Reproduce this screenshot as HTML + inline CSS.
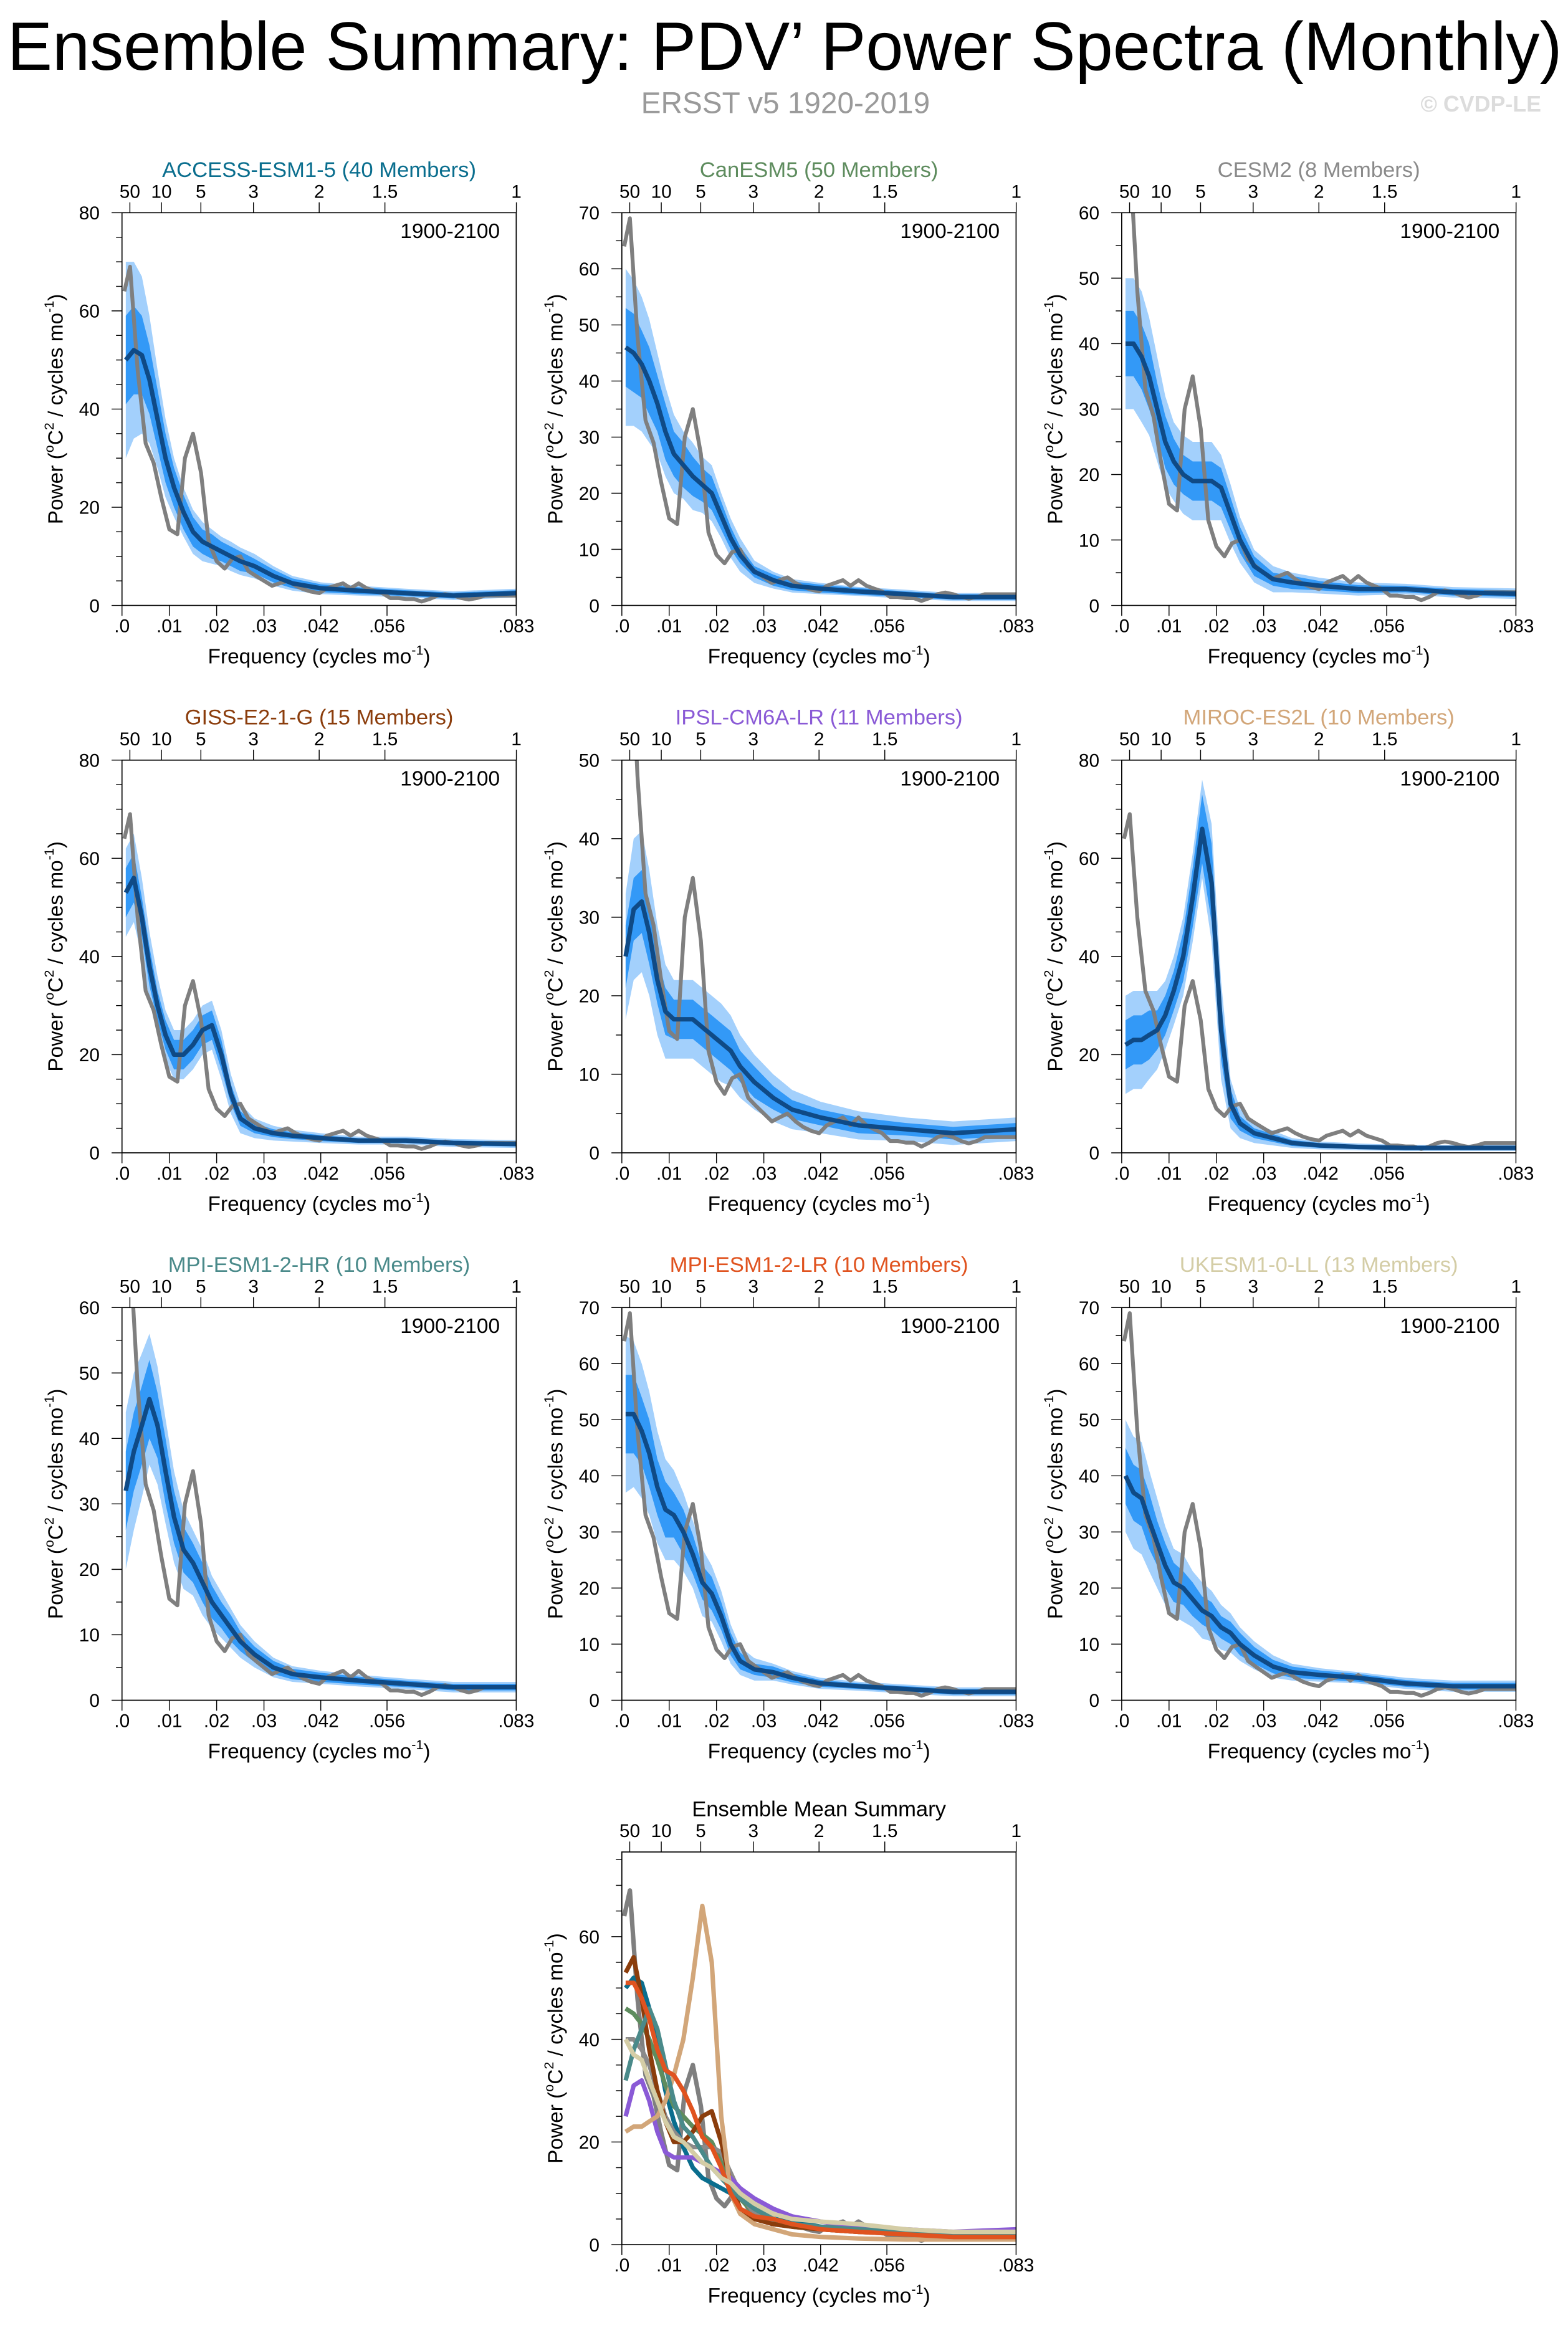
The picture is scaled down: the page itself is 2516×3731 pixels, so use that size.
<!DOCTYPE html>
<html><head><meta charset="utf-8"><title>Ensemble Summary: PDV Power Spectra</title>
<style>
html,body{margin:0;padding:0;background:#fff;}
svg{display:block;font-family:"Liberation Sans",Arial,sans-serif;}
</style></head>
<body>
<svg id="root" xmlns="http://www.w3.org/2000/svg" width="2516" height="3731" viewBox="0 0 1054 1563">
<rect x="0" y="0" width="1054" height="1563" fill="#fff"/>
<text x="5" y="47" font-size="46" textLength="1045" lengthAdjust="spacingAndGlyphs" fill="#000">Ensemble Summary: PDV’ Power Spectra (Monthly)</text>
<text x="528" y="76" font-size="20" text-anchor="middle" fill="#9a9a9a">ERSST v5 1920-2019</text>
<text x="1036" y="75" font-size="15" font-weight="bold" text-anchor="end" fill="#dcdcdc">© CVDP-LE</text>
<g id="panels"></g>
</svg>
<script>
// ---------- data ----------
const obsFreq = [0.0005,0.0017,0.0033,0.005,0.0067,0.0083,0.01,0.0117,0.0133,0.015,0.0167,0.0183,0.02,0.0217,0.0233,0.025,0.0267,0.0283,0.03,0.0317,0.0333,0.035,0.0367,0.0383,0.04,0.0417,0.0433,0.045,0.0467,0.0483,0.05,0.0517,0.0533,0.055,0.0567,0.0583,0.06,0.0617,0.0633,0.065,0.0667,0.0683,0.07,0.0717,0.0733,0.075,0.0767,0.0783,0.08,0.0817,0.0833];
const obsPower = [64,69,48,33,29,22,15.5,14.5,30,35,27,13,9,7.5,9.5,10,7,6,5,4,4.5,5,4,3.3,2.8,2.5,3.5,4,4.5,3.5,4.5,3.5,3,2.5,1.5,1.5,1.3,1.3,0.8,1.3,2,2.3,2,1.5,1.2,1.5,2,2,2,2,2];
const modelFreq = [0.0008,0.0025,0.0042,0.0058,0.0075,0.0092,0.011,0.013,0.015,0.017,0.019,0.021,0.023,0.025,0.028,0.032,0.036,0.042,0.05,0.06,0.07,0.0833];
const modelNames = ["ACCESS-ESM1-5 (40 Members)","CanESM5 (50 Members)","CESM2 (8 Members)","GISS-E2-1-G (15 Members)","IPSL-CM6A-LR (11 Members)","MIROC-ES2L (10 Members)","MPI-ESM1-2-HR (10 Members)","MPI-ESM1-2-LR (10 Members)","UKESM1-0-LL (13 Members)"];
const modelColors = ["#0a6e8e","#5e8c5e","#8a8a8a","#8b3d0c","#8a5ad6","#d2a679","#4a8a8a","#e0531f","#d4cda6"];
const yMaxes = [80,70,60,80,50,80,60,70,70];
const yStepLabels = [20,10,10,20,10,20,10,10,10];
const meanAccess = [50,52,51,46,38,30,24,19,15,13,12,11,10,9,8,6,4.5,3.5,3,2.5,2,2.5];
const meanCan = [46,45,43,40,36,31,27,25,23,21.5,20,16,12,9,6,4.5,3.5,3,2.5,2,1.5,1.5];
const meanCesm = [40,40,38,35,30,25,22,20,19,19,19,18,14,10,6,4,3.5,3,2.5,2.5,2,1.8];
const meanGiss = [53,56,48,38,30,24,20,20,22,25,26,20,12,7,5,4,3.5,3,2.5,2.5,2,1.8];
const meanIpsl = [25,31,32,28,22,18,17,17,17,16,15,14,13,11,9,7,5.5,4.5,3.5,3,2.5,3];
const meanMiroc = [22,23,23,24,25,28,33,40,52,66,55,25,10,6,4,3,2,1.5,1.2,1,1,1];
const meanMpiHr = [32,38,42,46,42,35,28,23,21,18,15,13,11,9,7,5,4,3.5,3,2.5,2,2];
const meanMpiLr = [51,51,48,44,38,34,33,30,26,21,19,15,10,7,5.5,5,4,3,2.5,2,1.5,1.5];
const meanUk = [40,37,36,32,28,24,21,20,18,16,15,13,12,10,8,6,5,4.5,4,3,2.5,2.5];
const innerAccess = [9,9,8,7,6,5,4,3.5,3,2.5,2.5,2,2,2,1.5,1.3,1,0.8,0.7,0.6,0.6,0.6];
const outerAccess = [20,18,16,13,10,8,6,5,4.5,4,3.5,3,3,2.8,2.5,2,1.5,1.2,1,0.9,0.9,0.9];
const innerCan = [7,7,6,6,5,5,4,4,3.5,3,3,2.5,2,1.5,1,1,0.8,0.7,0.6,0.5,0.5,0.5];
const outerCan = [14,13,12,11,9,8,7,6,6,5,5,4,3.5,3,2,1.5,1.2,1,0.8,0.8,0.7,0.7];
const innerCesm = [5,5,5,5,4,4,3.5,3,3,3,3,3,2.5,2,1.5,1,1,0.7,0.6,0.5,0.5,0.5];
const outerCesm = [10,10,10,9,8,7,6,6,6,6,6,5,4.5,3.5,2.5,2,1.5,1.2,1,0.8,0.8,0.8];
const innerGiss = [5,5,4,4,3,3,3,3,3,3,3,3,2,1.5,1,0.8,0.7,0.6,0.5,0.5,0.5,0.5];
const outerGiss = [9,9,8,7,6,5,5,5,5,5,5,5,4,3,2,1.5,1.2,1,0.8,0.8,0.8,0.8];
const innerIpsl = [4,4,4,4,3,3,2.5,2.5,2.5,2.5,2.5,2.5,2.5,2,2,1.5,1.2,1,1,0.8,0.8,0.8];
const outerIpsl = [8,9,9,8,7,6,5,5,5,5,5,5,4.5,4,3.5,3,2.5,2,1.8,1.5,1.5,1.5];
const innerMiroc = [5,5,5,5,4,4,4,5,6,7,8,6,3,1.5,1,0.8,0.6,0.5,0.4,0.4,0.4,0.4];
const outerMiroc = [10,10,10,9,8,7,7,8,9,10,12,10,5,3,2,1.5,1,0.8,0.7,0.6,0.6,0.6];
const innerMpiHr = [6,6,6,6,5,5,4,3.5,3,3,2.5,2,2,1.5,1.2,1,0.8,0.7,0.6,0.5,0.5,0.5];
const outerMpiHr = [12,12,11,10,9,8,7,6,5,5,4,3.5,3,2.5,2,1.5,1.2,1,0.9,0.8,0.8,0.8];
const innerMpiLr = [7,7,6,6,5,5,4,4,3.5,3,3,2.5,2,1.5,1,1,0.8,0.6,0.5,0.5,0.5,0.5];
const outerMpiLr = [14,13,12,11,10,9,8,7,6,6,5,4.5,3.5,2.5,2,1.5,1.2,1,0.8,0.8,0.8,0.8];
const innerUk = [5,5,5,5,4,4,3.5,3,3,2.5,2.5,2,2,2,1.5,1.2,1,0.8,0.7,0.6,0.6,0.6];
const outerUk = [10,10,10,9,8,7,6,6,5,5,4.5,4,3.5,3,2.5,2,1.5,1.2,1,1,1,1];
const bottomTickVals = [0,0.01,0.02,0.03,0.042,0.056,0.0833];
const bottomTickLabels = [".0",".01",".02",".03",".042",".056",".083"];
const periodYears = [50,10,5,3,2,1.5,1];
const periodLabels = ["50","10","5","3","2","1.5","1"];

const means = [meanAccess,meanCan,meanCesm,meanGiss,meanIpsl,meanMiroc,meanMpiHr,meanMpiLr,meanUk];
const inners = [innerAccess,innerCan,innerCesm,innerGiss,innerIpsl,innerMiroc,innerMpiHr,innerMpiLr,innerUk];
const outers = [outerAccess,outerCan,outerCesm,outerGiss,outerIpsl,outerMiroc,outerMpiHr,outerMpiLr,outerUk];

// ---------- drawing ----------
const NS = "http://www.w3.org/2000/svg";
const host = document.getElementById("panels");
const FMAX = 0.0833;
function mk(tag, attrs, parent){
  const e = document.createElementNS(NS, tag);
  for (const k in attrs) e.setAttribute(k, attrs[k]);
  parent.appendChild(e);
  return e;
}
function slug(s){ return s.split(" ")[0].toLowerCase().replace(/[^a-z0-9]+/g,"-"); }

function drawPanel(idx, px, py, title, titleColor, ymax, ystep, mode){
  const W = 265, H = 264;
  const g = mk("g", {}, host);
  
  
  const xs = f => px + f / FMAX * W;
  const ys = v => py + H - v / ymax * H;
  const clipId = "clip" + idx;
  const cp = mk("clipPath", {id: clipId}, g);
  mk("rect", {x: px, y: py, width: W, height: H}, cp);
  const plot = mk("g", {"clip-path": "url(#" + clipId + ")"}, g);

  function bandPath(mean, w){
    let d = "";
    for (let i = 0; i < modelFreq.length; i++) d += (i ? "L" : "M") + xs(modelFreq[i]).toFixed(2) + "," + ys(mean[i] + w[i]).toFixed(2);
    for (let i = modelFreq.length - 1; i >= 0; i--) d += "L" + xs(modelFreq[i]).toFixed(2) + "," + ys(Math.max(0, mean[i] - w[i])).toFixed(2);
    return d + "Z";
  }
  function linePath(fr, vals){
    let d = "";
    for (let i = 0; i < fr.length; i++) d += (i ? "L" : "M") + xs(fr[i]).toFixed(2) + "," + ys(vals[i]).toFixed(2);
    return d;
  }

  if (mode === 'model') {
    const b1 = mk("path", {d: bandPath(means[idx], outers[idx]), fill: "#a3d0fc", stroke: "none"}, plot);
    
    
    const b2 = mk("path", {d: bandPath(means[idx], inners[idx]), fill: "#3399f7", stroke: "none"}, plot);
    
    
    const ob = mk("path", {d: linePath(obsFreq, obsPower), fill: "none", stroke: "#7f7f7f", "stroke-width": 2.6, "stroke-linejoin": "round"}, plot);
    
    
    const ml = mk("path", {d: linePath(modelFreq, means[idx]), fill: "none", stroke: "#0f4a86", "stroke-width": 3, "stroke-linejoin": "round"}, plot);
    
    
  } else {
    const ob = mk("path", {d: linePath(obsFreq, obsPower), fill: "none", stroke: "#7f7f7f", "stroke-width": 3, "stroke-linejoin": "round"}, plot);
    
    
    for (let m = 0; m < means.length; m++) {
      const l = mk("path", {d: linePath(modelFreq, means[m]), fill: "none", stroke: modelColors[m], "stroke-width": 3, "stroke-linejoin": "round"}, plot);
      
      
    }
  }

  const fr = mk("rect", {x: px, y: py, width: W, height: H, fill: "none", stroke: "#000", "stroke-width": 0.7}, g);
  
  

  const yg = mk("g", {}, g);
  
  
  for (let v = 0; v <= ymax + 0.01; v += 5) {
    const major = Math.abs(v / ystep - Math.round(v / ystep)) < 1e-6;
    mk("line", {x1: px - (major ? 7 : 4), x2: px, y1: ys(v), y2: ys(v), stroke: "#000", "stroke-width": 0.6}, yg);
    if (major) {
      const t = mk("text", {x: px - 15, y: ys(v) + 4.5, "font-size": 12.5, "text-anchor": "end"}, yg);
      t.textContent = String(v);
      
      
    }
  }
  const yt = mk("text", {transform: "translate(" + (px - 40) + "," + (py + H / 2) + ") rotate(-90)", "font-size": 14, "text-anchor": "middle"}, g);
  
  
  yt.innerHTML = 'Power (<tspan font-size="9" dy="-6">o</tspan><tspan dy="6">C</tspan><tspan font-size="9" dy="-6">2</tspan><tspan dy="6"> / cycles mo</tspan><tspan font-size="9" dy="-6">-1</tspan><tspan dy="6">)</tspan>';

  const xg = mk("g", {}, g);
  
  
  for (let i = 0; i < bottomTickVals.length; i++) {
    const x = xs(bottomTickVals[i]);
    mk("line", {x1: x, x2: x, y1: py + H, y2: py + H + 7, stroke: "#000", "stroke-width": 0.6}, xg);
    const t = mk("text", {x: x, y: py + H + 18, "font-size": 12.5, "text-anchor": "middle"}, xg);
    t.textContent = bottomTickLabels[i];
    
    
  }
  const xt = mk("text", {x: px + W / 2, y: py + H + 39, "font-size": 14, "text-anchor": "middle"}, g);
  
  
  xt.innerHTML = 'Frequency (cycles mo<tspan font-size="9" dy="-6">-1</tspan><tspan dy="6">)</tspan>';

  const tg = mk("g", {}, g);
  
  
  for (let i = 0; i < periodYears.length; i++) {
    const x = xs(1 / (periodYears[i] * 12));
    mk("line", {x1: x, x2: x, y1: py - 7, y2: py, stroke: "#000", "stroke-width": 0.6}, tg);
    const t = mk("text", {x: x, y: py - 10, "font-size": 12.5, "text-anchor": "middle"}, tg);
    t.textContent = periodLabels[i];
    
    
  }

  const tt = mk("text", {x: px + W / 2, y: py - 24, "font-size": 14.5, "text-anchor": "middle", fill: titleColor}, g);
  tt.textContent = title;
  
  

  if (mode === 'model') {
    const yr = mk("text", {x: px + W - 11, y: py + 17, "font-size": 14, "text-anchor": "end"}, g);
    yr.textContent = "1900-2100";
    
    
  }
}

const colX = [82, 418, 754];
const rowY = [143, 511, 879];
for (let i = 0; i < 9; i++) {
  drawPanel(i, colX[i % 3], rowY[Math.floor(i / 3)], modelNames[i], modelColors[i], yMaxes[i], yStepLabels[i], 'model');
}
drawPanel(9, 418, 1245, "Ensemble Mean Summary", "#000", 76.5, 20, 'summary');
</script>
</body></html>
